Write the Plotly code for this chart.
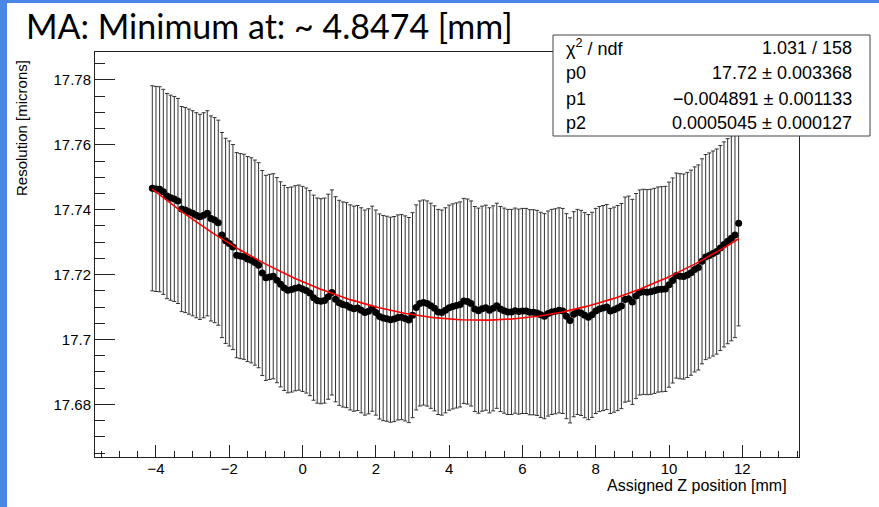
import plotly.graph_objects as go

# Scan positions along Z [mm]
x_start, x_step = -4.1, 0.1

# Resolution per assigned Z position [microns]
resolution = [
    17.7466, 17.7464, 17.7463, 17.7455, 17.7442, 17.7437, 17.7433, 17.7427, 17.7402, 17.7399,
    17.7394, 17.7389, 17.7383, 17.7378, 17.7383, 17.7389, 17.7373, 17.7368, 17.7360, 17.7322,
    17.7304, 17.7296, 17.7285, 17.7260, 17.7257, 17.7255, 17.7248, 17.7244, 17.7237, 17.7229,
    17.7205, 17.7190, 17.7193, 17.7195, 17.7183, 17.7170, 17.7159, 17.7152, 17.7154, 17.7158,
    17.7160, 17.7156, 17.7151, 17.7143, 17.7129, 17.7120, 17.7118, 17.7120, 17.7132, 17.7145,
    17.7124, 17.7113, 17.7108, 17.7106, 17.7099, 17.7095, 17.7097, 17.7090, 17.7083, 17.7087,
    17.7095, 17.7083, 17.7071, 17.7066, 17.7064, 17.7061, 17.7063, 17.7068, 17.7069, 17.7065,
    17.7060, 17.7075, 17.7099, 17.7111, 17.7114, 17.7111, 17.7104, 17.7096, 17.7085, 17.7083,
    17.7090, 17.7098, 17.7102, 17.7105, 17.7108, 17.7119, 17.7117, 17.7111, 17.7094, 17.7089,
    17.7095, 17.7098, 17.7090, 17.7096, 17.7104, 17.7094, 17.7089, 17.7085, 17.7085, 17.7089,
    17.7086, 17.7088, 17.7088, 17.7084, 17.7084, 17.7082, 17.7076, 17.7072, 17.7080, 17.7085,
    17.7087, 17.7090, 17.7088, 17.7072, 17.7059, 17.7078, 17.7085, 17.7082, 17.7075, 17.7069,
    17.7076, 17.7088, 17.7094, 17.7097, 17.7100, 17.7088, 17.7092, 17.7097, 17.7103, 17.7123,
    17.7126, 17.7116, 17.7134, 17.7145, 17.7147, 17.7146, 17.7147, 17.7150, 17.7154, 17.7155,
    17.7156, 17.7169, 17.7182, 17.7197, 17.7195, 17.7194, 17.7199, 17.7206, 17.7216, 17.7222,
    17.7241, 17.7254, 17.7259, 17.7265, 17.7271, 17.7282, 17.7293, 17.7303, 17.7312, 17.7322,
    17.7358,
]
n_pts = len(resolution)
z_pos = [round(x_start + x_step * k, 1) for k in range(n_pts)]
res_err = [0.0316] * n_pts

# pol2 fit result
p0, p0_err = 17.7178, 0.003368
p1, p1_err = -0.004891, 0.001133
p2, p2_err = 0.0005045, 0.000127
chi2 = 1.031
ndf = n_pts - 3

z_min = -p1 / (2 * p2)

# frame in pixels
W, H = 879, 507
L, R, T, B = 95, 799, 52, 457


def fx(px):
    return (px - L) / (R - L)


def fy(py):
    return (B - py) / (B - T)


fit_x = [z_pos[0] + (z_pos[-1] - z_pos[0]) * k / 400 for k in range(401)]
fit_y = [p0 + p1 * t + p2 * t * t for t in fit_x]


def fmt(v):
    return f"{v:.4g}".replace("-", "\u2212")


fig = go.Figure()
fig.add_trace(go.Scatter(
    x=z_pos, y=resolution, mode="markers",
    marker=dict(color="black", size=7, symbol="circle"),
    error_y=dict(type="data", array=res_err, visible=True,
                 color="#333333", thickness=1, width=2),
    showlegend=False, hoverinfo="skip",
))
fig.add_trace(go.Scatter(
    x=fit_x, y=fit_y, mode="lines",
    line=dict(color="#ff0000", width=1.6),
    showlegend=False, hoverinfo="skip",
))

axis_common = dict(
    showline=True, mirror=True, linecolor="#222222", linewidth=1,
    ticks="inside", tickcolor="#222222", tickwidth=1,
    showgrid=False, zeroline=False,
    tickfont=dict(family="Liberation Sans, Arial, sans-serif", size=15, color="black"),
)

fig.update_xaxes(
    range=[-5.664, 13.547], dtick=2, tick0=0, ticklen=12,
    ticklabelstandoff=-2,
    minor=dict(ticks="inside", ticklen=6, dtick=0.5, tick0=0,
               tickcolor="#222222", showgrid=False),
    **axis_common,
)
fig.update_yaxes(
    range=[17.6638, 17.7886], dtick=0.02, tick0=17.68, ticklen=20,
    minor=dict(ticks="inside", ticklen=10, dtick=0.005, tick0=17.68,
               tickcolor="#222222", showgrid=False),
    **axis_common,
)

blue = "#4a86e8"
shapes = [
    # stats box
    dict(type="rect", xref="paper", yref="paper",
         x0=fx(553), x1=fx(870), y0=fy(136), y1=fy(35),
         fillcolor="white", line=dict(color="#444444", width=1), layer="above"),
    # slide border bands
    dict(type="rect", xref="paper", yref="paper",
         x0=fx(0), x1=fx(7), y0=fy(507), y1=fy(0),
         fillcolor=blue, line=dict(width=0), layer="above"),
    dict(type="rect", xref="paper", yref="paper",
         x0=fx(0), x1=fx(879), y0=fy(3), y1=fy(0),
         fillcolor=blue, line=dict(width=0), layer="above"),
]

stat_font = dict(family="Liberation Sans, Arial, sans-serif", size=18, color="black")
stat_rows = [
    ("\u03c7<sup>2</sup> / ndf", f"{chi2:.4g} / {ndf}"),
    ("p0", f"{fmt(p0)} \u00b1 {fmt(p0_err)}"),
    ("p1", f"{fmt(p1)} \u00b1 {fmt(p1_err)}"),
    ("p2", f"{fmt(p2)} \u00b1 {fmt(p2_err)}"),
]
row_y = [48, 73.5, 98.5, 123]

annotations = []
for (lab, val), yy in zip(stat_rows, row_y):
    annotations.append(dict(xref="paper", yref="paper", x=fx(564), y=fy(yy),
                            xanchor="left", yanchor="middle", text=lab,
                            showarrow=False, font=stat_font))
    annotations.append(dict(xref="paper", yref="paper", x=fx(854), y=fy(yy),
                            xanchor="right", yanchor="middle", text=val,
                            showarrow=False, font=stat_font))

annotations.append(dict(
    xref="paper", yref="paper", x=fx(24), y=fy(26), xanchor="left", yanchor="middle",
    text=f"MA: Minimum at: ~ {z_min:.4f} [mm]", showarrow=False,
    font=dict(family="Lato, sans-serif", size=34, color="black"),
))
annotations.append(dict(
    xref="paper", yref="paper", x=fx(789), y=fy(486), xanchor="right", yanchor="middle",
    text="Assigned Z position [mm]", showarrow=False,
    font=dict(family="Liberation Sans, Arial, sans-serif", size=16, color="black"),
))
annotations.append(dict(
    xref="paper", yref="paper", x=fx(21), y=fy(58), xanchor="center", yanchor="top",
    text="Resolution [microns]", textangle=-90, showarrow=False,
    font=dict(family="Liberation Sans, Arial, sans-serif", size=15, color="black"),
))

fig.update_layout(
    width=W, height=H,
    margin=dict(l=L, r=W - R, t=T, b=H - B, pad=0),
    paper_bgcolor="white", plot_bgcolor="white",
    shapes=shapes, annotations=annotations,
    showlegend=False,
)

fig.write_html("out.html")
